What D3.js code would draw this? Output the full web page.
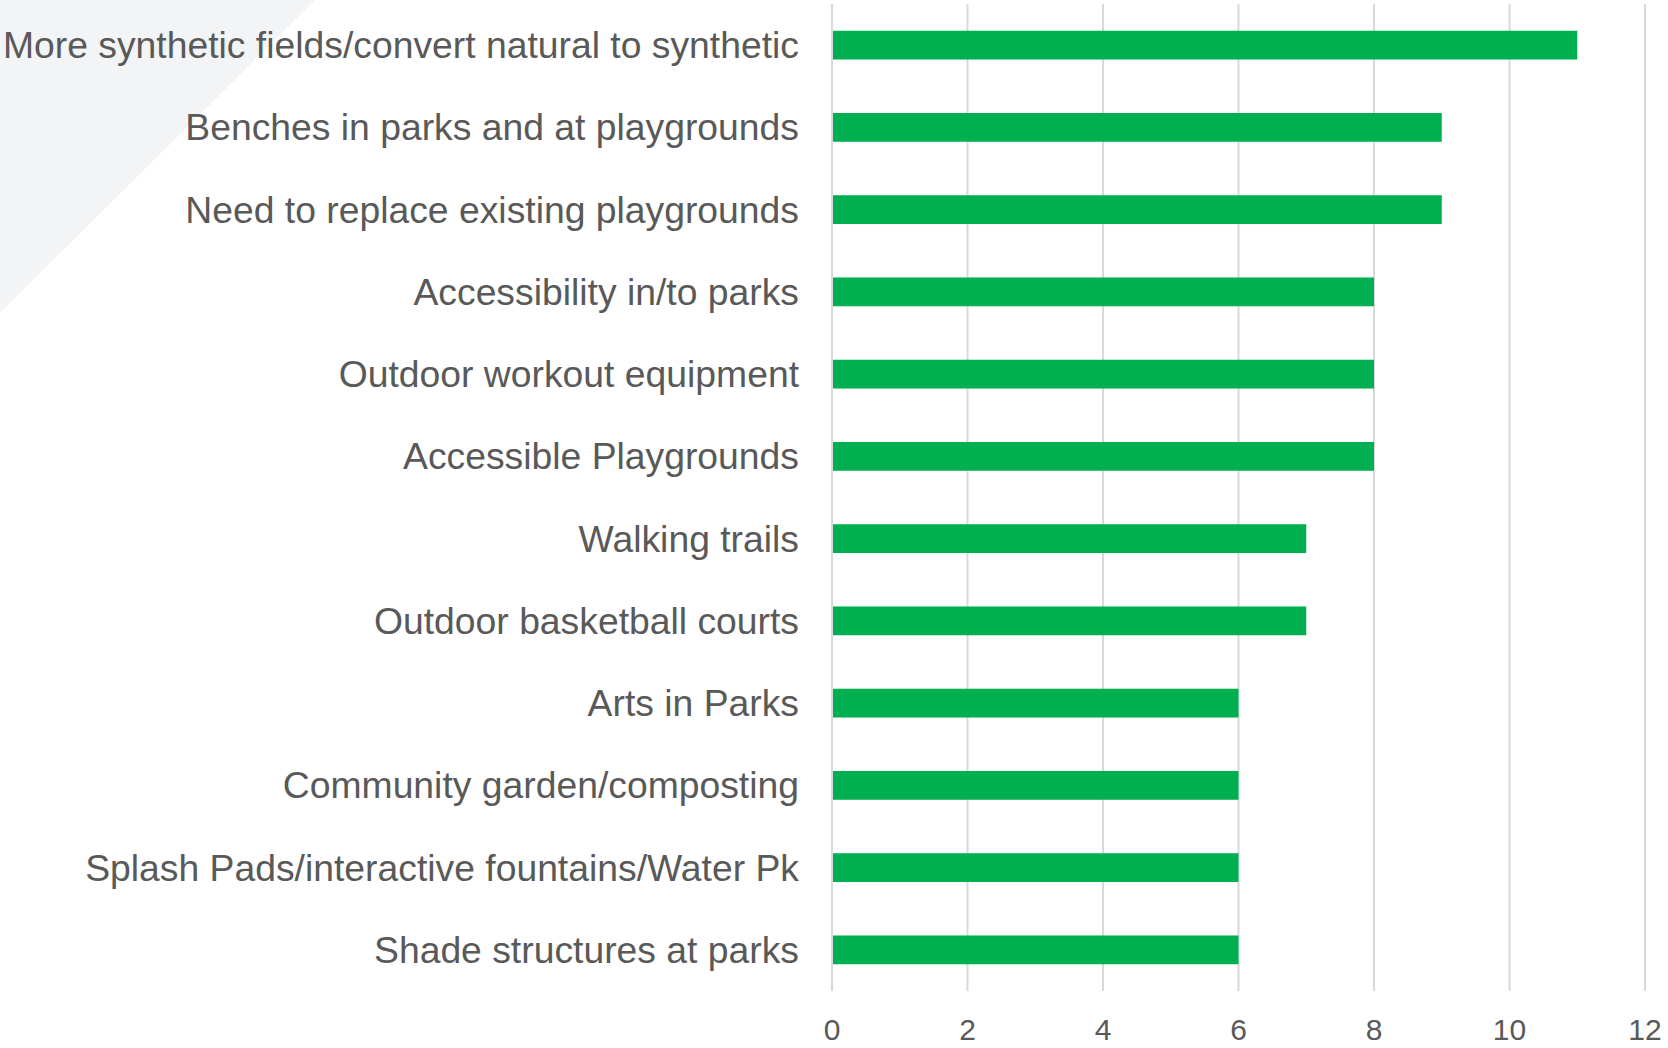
<!DOCTYPE html>
<html>
<head>
<meta charset="utf-8">
<script src="https://cdn.jsdelivr.net/npm/d3@7"></script>
<style>
  body { margin: 0; background: #fff; }
  svg { display: block; font-family: Arial, "Liberation Sans", sans-serif; }
</style>
</head>
<body>
<svg id="chart" width="1668" height="1048"></svg>
<script>
const categories = [
  'More synthetic fields/convert natural to synthetic',
  'Benches in parks and at playgrounds',
  'Need to replace existing playgrounds',
  'Accessibility in/to parks',
  'Outdoor workout equipment',
  'Accessible Playgrounds',
  'Walking trails',
  'Outdoor basketball courts',
  'Arts in Parks',
  'Community garden/composting',
  'Splash Pads/interactive fountains/Water Pk',
  'Shade structures at parks'
];
const values = [11, 9, 9, 8, 8, 8, 7, 7, 6, 6, 6, 6];
const xTicks = [0, 2, 4, 6, 8, 10, 12];

const svg = d3.select('#chart');

// light corner decoration
svg.append('path')
  .attr('d', 'M0,0 L315,0 L0,313 Z')
  .attr('fill', '#f3f4f6');

const x = d3.scaleLinear().domain([0, 12]).range([832, 1645]);
const y = d3.scaleBand()
  .domain(categories)
  .range([4, 991])
  .paddingInner(0.65)
  .paddingOuter(0.325);

// gridlines
svg.append('g')
  .selectAll('line')
  .data(xTicks)
  .enter()
  .append('line')
  .attr('x1', d => x(d))
  .attr('x2', d => x(d))
  .attr('y1', 4)
  .attr('y2', 991)
  .attr('stroke', '#d9d9d9')
  .attr('stroke-width', 2);

// bars
svg.append('g')
  .selectAll('rect')
  .data(values)
  .enter()
  .append('rect')
  .attr('x', x(0) + 1)
  .attr('y', (d, i) => y(categories[i]))
  .attr('width', d => x(d) - x(0) - 1)
  .attr('height', y.bandwidth())
  .attr('fill', '#00b050');

// category labels
svg.append('g')
  .selectAll('text')
  .data(categories)
  .enter()
  .append('text')
  .attr('x', 799)
  .attr('y', d => y(d) + y.bandwidth() / 2)
  .attr('dy', '0.35em')
  .attr('text-anchor', 'end')
  .attr('fill', '#595959')
  .attr('font-size', '37.3px')
  .text(d => d);

// x axis tick labels
svg.append('g')
  .selectAll('text')
  .data(xTicks)
  .enter()
  .append('text')
  .attr('x', d => x(d))
  .attr('y', 1040)
  .attr('text-anchor', 'middle')
  .attr('fill', '#595959')
  .attr('font-size', '30px')
  .text(d => d);
</script>
</body>
</html>
